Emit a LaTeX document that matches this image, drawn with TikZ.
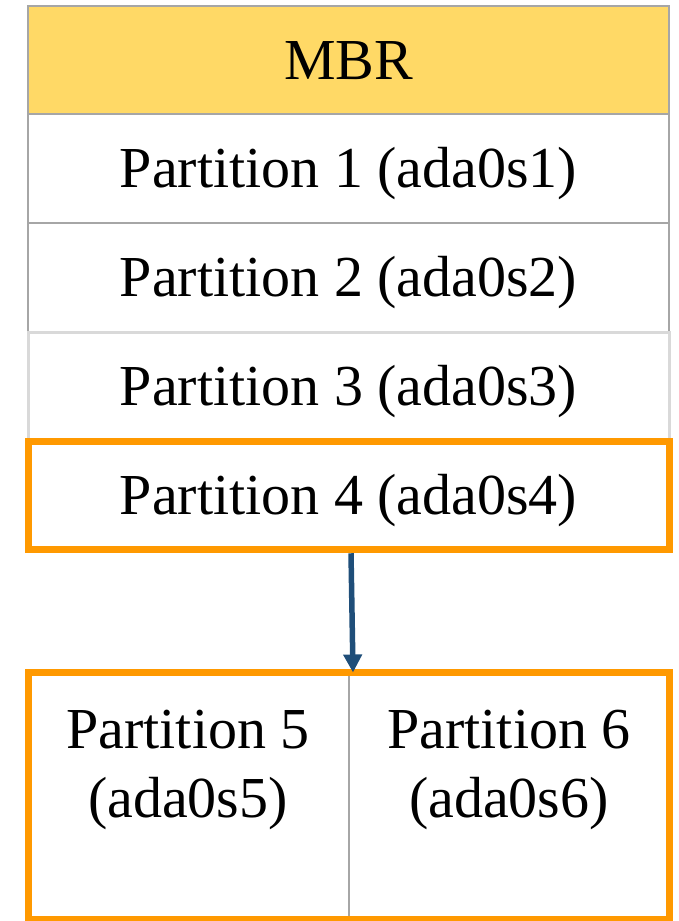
\documentclass[tikz,border=0pt]{standalone}
\usepackage{fontspec}
\setmainfont{Liberation Serif}
\usetikzlibrary{arrows.meta}
\definecolor{mbrfill}{HTML}{FFD966}
\definecolor{gridgray}{HTML}{A6A6A6}
\definecolor{lightgray}{HTML}{D9D9D9}
\definecolor{hiorange}{HTML}{FF9900}
\definecolor{arrowblue}{HTML}{1F4E79}
\tikzset{
  rowbox/.style={draw=gridgray, line width=2pt, minimum width=641pt, minimum height=108.5pt,
    inner sep=0pt, text height=38.4pt, text depth=0pt,
    font=\fontsize{58}{69}\selectfont},
  hibox/.style={draw=hiorange, line width=7pt},
  celltext/.style={align=center, inner sep=0pt, font=\fontsize{58}{69}\selectfont},
  arr/.style={draw=arrowblue, line width=5.5pt, -{Triangle[width=18pt,length=18pt]}}
}
\begin{document}
\begin{tikzpicture}[x=1pt,y=-1pt]
\useasboundingbox (0,0) rectangle (678,921);
\node[rowbox, fill=mbrfill] (mbr) at (348.5,60) {MBR};
\node[rowbox] (p1) at (348.5,168.5) {Partition 1 (ada0s1)};
\node[rowbox] (p2) at (348.5,277.5) {Partition 2 (ada0s2)};
\node[rowbox, draw=lightgray, line width=3pt] (p3) at (348.5,386.5) {Partition 3 (ada0s3)};
\node[rowbox, hibox] (p4) at (348.5,495.5) {Partition 4 (ada0s4)};
% lower box
\coordinate (divtop) at (349,672);
\coordinate (divbot) at (349,919);
\draw[draw=gridgray, line width=2pt] (divtop) -- (divbot);
\node[hibox, minimum width=641pt, minimum height=247pt, inner sep=0pt] (bot) at (348.5,795.5) {};
\node[celltext, anchor=base] (p5) at (188,817) {Partition 5\\(ada0s5)};
\node[celltext, anchor=base] (p6) at (509,817) {Partition 6\\(ada0s6)};
\draw[arr] ([xshift=2.5pt]p4.south) -- ([xshift=4.5pt,yshift=-4pt]bot.north);
\end{tikzpicture}
\end{document}
